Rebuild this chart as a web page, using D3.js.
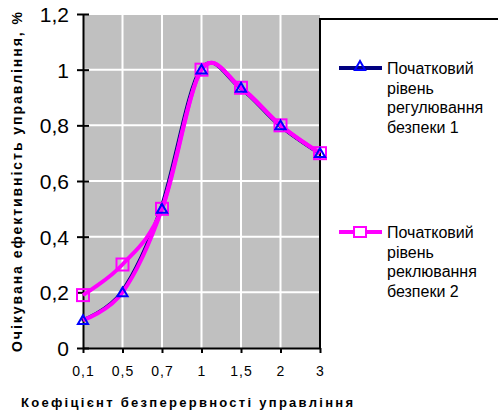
<!DOCTYPE html>
<html>
<head>
<meta charset="utf-8">
<script src="https://cdn.jsdelivr.net/npm/d3@7"></script>
<style>
body { margin: 0; background: #fff; }
svg { display: block; font-family: "Liberation Sans", Arial, sans-serif; }
</style>
</head>
<body>
<script>
// categories on the x axis (treated as labels, evenly spaced)
var categories = ["0,1", "0,5", "0,7", "1", "1,5", "2", "3"];
var series1 = [0.1, 0.2, 0.5, 1, 0.935, 0.8, 0.7];
var series2 = [0.19, 0.3, 0.5, 1, 0.935, 0.8, 0.7];
var yTicks = [0, 0.2, 0.4, 0.6, 0.8, 1, 1.2];
var yTickLabels = ["0", "0,2", "0,4", "0,6", "0,8", "1", "1,2"];
var legend1 = ["Початковий", "рівень", "регулювання", "безпеки 1"];
var legend2 = ["Початковий", "рівень", "реклювання", "безпеки 2"];

var width = 498, height = 413;

var svg = d3.select("body").append("svg")
	.attr("width", width)
	.attr("height", height);

var x = d3.scalePoint()
	.domain(categories)
	.range([83, 320]);

var y = d3.scaleLinear()
	.domain([0, 1.2])
	.range([348, 14]);

// grey plot area
svg.append("rect")
	.attr("x", x(categories[0]))
	.attr("y", y(1.2))
	.attr("width", x(categories[6]) - x(categories[0]))
	.attr("height", y(0) - y(1.2))
	.style("fill", "#c0c0c0");

// grid lines
svg.selectAll(".hgrid")
	.data(yTicks.slice(1))
	.enter().append("line")
	.attr("x1", x(categories[0]))
	.attr("x2", x(categories[6]))
	.attr("y1", function(d){ return y(d); })
	.attr("y2", function(d){ return y(d); })
	.style("stroke", "#fff")
	.style("stroke-width", 2);

svg.selectAll(".vgrid")
	.data(categories.slice(1, 6))
	.enter().append("line")
	.attr("x1", function(d){ return x(d); })
	.attr("x2", function(d){ return x(d); })
	.attr("y1", y(1.2))
	.attr("y2", y(0))
	.style("stroke", "#fff")
	.style("stroke-width", 2);

// legend box border (right + top)
svg.append("path")
	.attr("d", "M" + x(categories[6]) + "," + y(0) + "V19H" + width)
	.style("fill", "none")
	.style("stroke", "#000")
	.style("stroke-width", 2);

// axes
var yAxis = d3.axisLeft(y)
	.tickValues(yTicks)
	.tickFormat(function(d, i){ return yTickLabels[i]; })
	.tickSizeInner(6)
	.tickSizeOuter(0);

var gy = svg.append("g")
	.attr("transform", "translate(" + x(categories[0]) + ",0)")
	.call(yAxis);
gy.select(".domain").style("stroke-width", 2);
gy.selectAll(".tick line").attr("x1", -6).attr("x2", 6).style("stroke-width", 2);
gy.selectAll(".tick text")
	.attr("x", -14)
	.attr("dy", "0.36em")
	.style("font-size", "21px")
	.style("font-family", "Liberation Sans, Arial, sans-serif");

var xAxis = d3.axisBottom(x).tickSizeInner(5).tickSizeOuter(0).tickPadding(13);
var gx = svg.append("g")
	.attr("transform", "translate(0," + y(0) + ")")
	.call(xAxis);
gx.select(".domain").style("stroke-width", 2);
gx.selectAll(".tick line").style("stroke-width", 2);
gx.selectAll(".tick text")
	.style("font-size", "14px")
	.style("letter-spacing", "1px")
	.style("font-family", "Liberation Sans, Arial, sans-serif");

// lines
var smooth = d3.line()
	.x(function(d, i){ return x(categories[i]); })
	.y(function(d){ return y(d); })
	.curve(d3.curveCardinal.tension(0));

// the navy series line mostly sits under the magenta one
svg.append("path")
	.datum(series1)
	.attr("d", smooth)
	.attr("transform", "translate(-1.5,0)")
	.style("fill", "none")
	.style("stroke", "#000080")
	.style("stroke-width", 3);

svg.append("path")
	.datum(series1)
	.attr("d", smooth)
	.style("fill", "none")
	.style("stroke", "#ff00ff")
	.style("stroke-width", 4);

svg.append("path")
	.datum(series2)
	.attr("d", smooth)
	.style("fill", "none")
	.style("stroke", "#ff00ff")
	.style("stroke-width", 4);

// markers
var tri = d3.symbol().type(d3.symbolTriangle).size(45);

svg.selectAll(".sq")
	.data(series2)
	.enter().append("rect")
	.attr("x", function(d, i){ return x(categories[i]) - 6; })
	.attr("y", function(d){ return y(d) - 6; })
	.attr("width", 12)
	.attr("height", 12)
	.style("fill", "none")
	.style("stroke", "#ff00ff")
	.style("stroke-width", 2);

svg.selectAll(".tri")
	.data(series1)
	.enter().append("path")
	.attr("d", tri)
	.attr("transform", function(d, i){ return "translate(" + x(categories[i]) + "," + (y(d) + 1) + ")"; })
	.style("fill", "none")
	.style("stroke", "#0000ff")
	.style("stroke-width", 2);

// legend
function legendItem(yPos, color, lines, marker){
	svg.append("line")
		.attr("x1", 339).attr("x2", 382)
		.attr("y1", yPos).attr("y2", yPos)
		.style("stroke", color)
		.style("stroke-width", 4);
	if(marker == "tri"){
		svg.append("path")
			.attr("d", tri)
			.attr("transform", "translate(360," + (yPos - 1) + ")")
			.style("fill", "none")
			.style("stroke", "#0000ff")
			.style("stroke-width", 2);
	} else {
		svg.append("rect")
			.attr("x", 354).attr("y", yPos - 5)
			.attr("width", 12).attr("height", 10)
			.style("fill", "#fff")
			.style("stroke", "#ff00ff")
			.style("stroke-width", 2);
	}
	svg.append("g").selectAll("text")
		.data(lines)
		.enter().append("text")
		.attr("x", 387)
		.attr("y", function(d, i){ return yPos + 6 + i * 19.5; })
		.text(function(d){ return d; })
		.style("font-size", "16px");
}
legendItem(68, "#000080", legend1, "tri");
legendItem(232, "#ff00ff", legend2, "sq");

// axis titles
svg.append("text")
	.attr("transform", "translate(22,182) rotate(-90)")
	.attr("text-anchor", "middle")
	.attr("textLength", 340)
	.text("Очікувана ефективність управління, %")
	.style("font-size", "14px")
	.style("font-weight", "bold");

svg.append("text")
	.attr("x", 21)
	.attr("y", 407)
	.attr("textLength", 332)
	.text("Коефіцієнт безперервності управління")
	.style("font-size", "13px")
	.style("font-weight", "bold");
</script>
</body>
</html>
